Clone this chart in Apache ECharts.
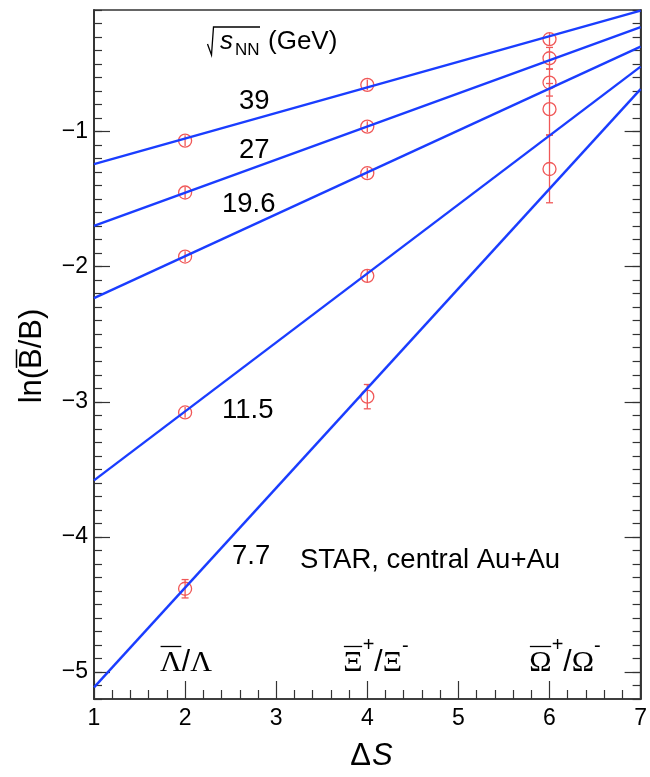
<!DOCTYPE html>
<html><head><meta charset="utf-8">
<script src="https://cdn.jsdelivr.net/npm/echarts@6/dist/echarts.min.js"></script>
<style>html,body{margin:0;padding:0;background:#fff}#c{width:650px;height:777px}</style>
</head><body><div id="c"></div>
<script>
// ---------- data ----------
const deltaS = [2, 4, 6];
const energyLabels = ['39', '27', '19.6', '11.5', '7.7'];
// ln(Bbar/B) at deltaS = 2, 4, 6
const ln39  = [-1.067, -0.654, -0.316];
const ln27  = [-1.451, -0.963, -0.457];
const ln196 = [-1.925, -1.308, -0.637];
const ln115 = [-3.079, -2.068, -0.834];
const ln77  = [-4.384, -2.962, -1.277];
// uncertainties
const err39  = [0.04, 0.04, 0.045];
const err27  = [0.04, 0.04, 0.08];
const err196 = [0.04, 0.04, 0.10];
const err115 = [0.04, 0.045, 0.19];
const err77  = [0.068, 0.09, 0.25];
// fit lines, evaluated at deltaS = 1 and 7
const fitDeltaS = [1, 7];
const fit39  = [-1.241, -0.105];
const fit27  = [-1.698, -0.227];
const fit196 = [-2.233, -0.371];
const fit115 = [-3.582, -0.519];
const fit77  = [-5.114, -0.686];
// ticks
const xTickValues = [1, 2, 3, 4, 5, 6, 7];
const yTickValues = [-5, -4, -3, -2, -1];

// ---------- build ----------
const lnAll = [ln39, ln27, ln196, ln115, ln77];
const errAll = [err39, err27, err196, err115, err77];
const fitAll = [fit39, fit27, fit196, fit115, fit77];
const yMin = -5.2, yMax = -0.1;
const yMinor = [];
for (let k = -52; k <= -1; k++) yMinor.push(k / 10);

const RED = '#f05858', BLUE = '#1a3dff', AX = '#333';
const SANS = '"Liberation Sans", Arial, Helvetica, sans-serif';
const SERIF = '"Liberation Serif", "Times New Roman", serif';

const ctx = document.createElement('canvas').getContext('2d');
function tw(t, font) { ctx.font = font; return ctx.measureText(t).width; }

const pointData = [];
lnAll.forEach((arr, i) => arr.forEach((v, j) => pointData.push([deltaS[j], v, errAll[i][j]])));

const series = [];
fitAll.forEach((f, i) => {
  series.push({
    type: 'line', name: energyLabels[i], xAxisIndex: 0, yAxisIndex: 0,
    data: fitDeltaS.map((x, k) => [x, f[k]]),
    symbol: 'none', silent: true, z: 4,
    lineStyle: { color: BLUE, width: 2.4 }
  });
});
const R = 6.5;
series.push({
  type: 'custom', xAxisIndex: 0, yAxisIndex: 0, z: 3, silent: true,
  data: pointData,
  renderItem: function (params, api) {
    const x = api.value(0), y = api.value(1), e = api.value(2);
    const c = api.coord([x, y]);
    const t = api.coord([x, y + e]), b = api.coord([x, y - e]);
    const st = { stroke: RED, lineWidth: 1.3, fill: null };
    const ch = [
      { type: 'circle', shape: { cx: c[0], cy: c[1], r: R }, style: st },
      { type: 'line', shape: { x1: c[0], y1: t[1], x2: c[0], y2: b[1] }, style: st }
    ];
    if (b[1] - t[1] > 2 * R + 2) {
      ch.push({ type: 'line', shape: { x1: c[0] - 3.5, y1: t[1], x2: c[0] + 3.5, y2: t[1] }, style: st });
      ch.push({ type: 'line', shape: { x1: c[0] - 3.5, y1: b[1], x2: c[0] + 3.5, y2: b[1] }, style: st });
    }
    return { type: 'group', children: ch };
  }
});

const minus = v => (v < 0 ? '\u2212' : '') + Math.abs(v);

function yAxisDef(pos, ticks, len, labels) {
  return {
    type: 'value', min: yMin, max: yMax, position: pos,
    axisLine: { show: true, lineStyle: { color: AX, width: 1.5 } },
    axisTick: { show: true, inside: true, length: len, customValues: ticks, lineStyle: { color: AX, width: 1.2 } },
    axisLabel: labels ? { show: true, customValues: yTickValues, formatter: minus, fontSize: 23, fontFamily: SANS, color: '#000', margin: 6, padding: [6, 0, 0, 0] } : { show: false },
    splitLine: { show: false }, minorTick: { show: false }
  };
}

// ---------- graphic texts ----------
const g = [];
function txt(x, y, t, font, align) {
  g.push({ type: 'text', x: x, y: y, silent: true,
    style: { text: t, font: font, fill: '#000', textAlign: align || 'left', textVerticalAlign: 'middle', align: align || 'left', verticalAlign: 'middle' } });
}
const annFont = '27.5px ' + SANS;
const labelPos = [[239, 101], [239, 150], [222, 204], [222, 410], [232, 556]];
energyLabels.forEach((l, i) => txt(labelPos[i][0], labelPos[i][1], l, annFont));
txt(300, 560, 'STAR, central Au+Au', annFont);

// sqrt(s_NN) (GeV)
g.push({ type: 'polyline', silent: true, shape: { points: [[207.5, 44], [211.5, 55], [213.5, 27], [260, 27]] }, style: { stroke: '#000', lineWidth: 1.3, fill: null } });
txt(220, 42, 's', 'italic 26px ' + SANS);
txt(235, 50.5, 'NN', '17px ' + SANS);
txt(268, 41.5, '(GeV)', '26px ' + SANS);

// particle labels
function particle(cx, pieces) {
  let total = 0;
  pieces.forEach(p => { p.w = tw(p.t, p.f); total += p.w; });
  let x = cx - total / 2;
  pieces.forEach(p => {
    txt(x, p.y, p.t, p.f);
    if (p.bar) g.push({ type: 'line', silent: true, shape: { x1: x + 0.5, y1: 646.5, x2: x + p.w - 0.5, y2: 646.5 }, style: { stroke: '#000', lineWidth: 1.3 } });
    x += p.w;
  });
}
const GF = '30px ' + SERIF, SL = '30px ' + SANS, SUP = '20px ' + SANS;
particle(186, [{ t: 'Λ', f: GF, y: 663, bar: true }, { t: '/', f: SL, y: 663 }, { t: 'Λ', f: GF, y: 663 }]);
particle(376, [{ t: 'Ξ', f: GF, y: 663, bar: true }, { t: '+', f: SUP, y: 645 }, { t: '/', f: SL, y: 663 }, { t: 'Ξ', f: GF, y: 663 }, { t: '-', f: SUP, y: 646 }]);
particle(565, [{ t: 'Ω', f: GF, y: 663, bar: true }, { t: '+', f: SUP, y: 645 }, { t: '/', f: SL, y: 663 }, { t: 'Ω', f: GF, y: 663 }, { t: '-', f: SUP, y: 646 }]);

// y-axis title  ln(Bbar/B)
(function () {
  const f = '31px ' + SANS;
  const full = tw('ln(B/B)', f), pre = tw('ln(', f), bw = tw('B', f);
  g.push({ type: 'group', x: 32.5, y: 356, rotation: Math.PI / 2, silent: true, children: [
    { type: 'text', x: 0, y: 0, style: { text: 'ln(B/B)', font: f, fill: '#000', textAlign: 'center', textVerticalAlign: 'middle', align: 'center', verticalAlign: 'middle' } },
    { type: 'line', shape: { x1: -full / 2 + pre + 1, y1: -16, x2: -full / 2 + pre + bw - 1, y2: -16 }, style: { stroke: '#000', lineWidth: 1.5 } }
  ] });
})();
// x-axis title ΔS
(function () {
  const f1 = '31px ' + SANS, f2 = 'italic 31px ' + SANS;
  const w1 = tw('Δ', f1), w2 = tw('S', f2);
  const x0 = 371 - (w1 + w2) / 2;
  txt(x0, 756, 'Δ', f1);
  txt(x0 + w1 + 1, 756, 'S', f2);
})();

const option = {
  animation: false,
  backgroundColor: '#fff',
  grid: { left: 94, right: 4, top: 10, bottom: 78, show: true, borderColor: AX, borderWidth: 1.5, containLabel: false },
  xAxis: [{
    type: 'value', min: 1, max: 7, interval: 1, position: 'bottom',
    axisLine: { show: true, lineStyle: { color: AX, width: 1.5 } },
    axisTick: { show: true, inside: true, length: 18, lineStyle: { color: AX, width: 1.2 } },
    minorTick: { show: true, splitNumber: 5, length: 9, lineStyle: { color: AX, width: 1.2 } },
    axisLabel: { show: true, fontSize: 23, fontFamily: SANS, color: '#000', margin: 8, customValues: xTickValues },
    splitLine: { show: false }, minorSplitLine: { show: false }
  }],
  yAxis: [
    yAxisDef('left', yTickValues, 16, true),
    yAxisDef('left', yMinor, 8, false),
    yAxisDef('right', yTickValues, 16, false),
    yAxisDef('right', yMinor, 8, false)
  ],
  series: series,
  graphic: g
};
const chart = echarts.init(document.getElementById('c'), null, { renderer: 'canvas' });
chart.setOption(option);
</script></body></html>
